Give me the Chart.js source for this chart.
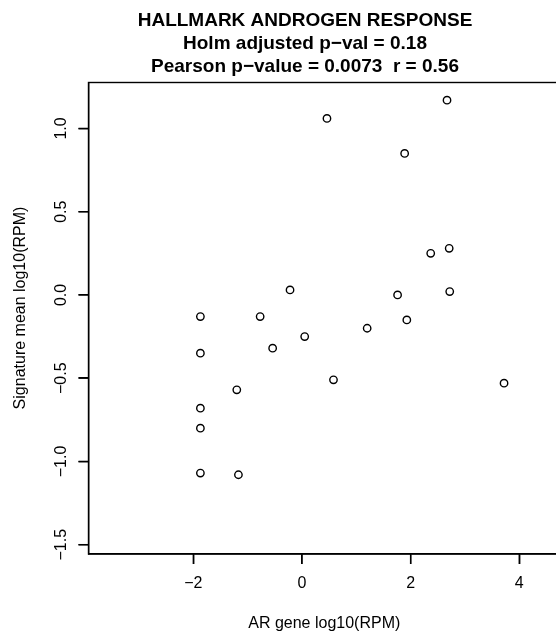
<!DOCTYPE html>
<html>
<head>
<meta charset="utf-8">
<script src="https://cdn.jsdelivr.net/npm/chart.js@4.4.1/dist/chart.umd.min.js"></script>
<style>
  html, body { margin: 0; padding: 0; background: #fff; overflow: hidden; }
  #wrap { width: 556px; height: 636px; overflow: hidden; }
</style>
</head>
<body>
<div id="wrap"><canvas id="chart" width="600" height="636"></canvas></div>
<script>
// AR gene vs signature mean, one point per sample
const arGene = [2.67, 0.46, 1.89, 2.37, 2.71, -0.22, 1.76, 2.72, -1.87, -0.77, 1.93,
  1.20, 0.05, -0.54, -1.87, 0.58, 3.72, -1.20, -1.87, -1.87, -1.87, -1.17];
const sigMean = [1.17, 1.06, 0.85, 0.25, 0.28, 0.03, 0.00, 0.02, -0.13, -0.13, -0.15,
  -0.20, -0.25, -0.32, -0.35, -0.51, -0.53, -0.57, -0.68, -0.80, -1.07, -1.08];

const xTicks = [-2, 0, 2, 4];
const yTicks = [-1.5, -1.0, -0.5, 0.0, 0.5, 1.0];

const titleLines = ['HALLMARK ANDROGEN RESPONSE', 'Holm adjusted p\u2212val = 0.18', 'Pearson p\u2212value = 0.0073  r = 0.56'];
const xTitle = 'AR gene log10(RPM)';
const yTitle = 'Signature mean log10(RPM)';

const FONT = "'Liberation Sans', Arial, Helvetica, sans-serif";
const minus = s => s.replace('-', '\u2212');

const points = arGene.map((x, i) => ({ x: x, y: sigMean[i] }));

// frame, tick marks, main title and y title (R style)
const decor = {
  id: 'decor',
  afterDraw(chart) {
    const ctx = chart.ctx;
    const a = chart.chartArea;
    const sx = chart.scales.x, sy = chart.scales.y;
    ctx.save();
    ctx.strokeStyle = '#000';
    ctx.lineWidth = 1.4;
    ctx.strokeRect(a.left, a.top, a.right - a.left, a.bottom - a.top);

    ctx.fillStyle = '#000';
    xTicks.forEach(v => {
      const px = sx.getPixelForValue(v);
      ctx.fillRect(px - 0.7, a.bottom, 1.4, 10);
    });
    yTicks.forEach(v => {
      const py = sy.getPixelForValue(v);
      ctx.fillRect(a.left - 10, py - 0.7, 10, 1.4);
    });

    ctx.textAlign = 'center';
    ctx.textBaseline = 'middle';
    ctx.font = 'bold 19px ' + FONT;
    titleLines.forEach((t, i) => ctx.fillText(t, 305, 20.7 + i * 23.25));

    ctx.font = '16px ' + FONT;
    ctx.translate(20.5, 308);
    ctx.rotate(-Math.PI / 2);
    ctx.fillText(yTitle, 0, 0);
    ctx.restore();
  }
};

new Chart(document.getElementById('chart'), {
  type: 'scatter',
  data: {
    datasets: [{
      data: points,
      pointStyle: 'circle',
      pointRadius: 3.7,
      pointHoverRadius: 3.7,
      pointBorderWidth: 1.4,
      borderColor: '#000',
      backgroundColor: 'rgba(0,0,0,0)'
    }]
  },
  options: {
    responsive: false,
    animation: false,
    devicePixelRatio: 1,
    layout: { padding: { top: 82.5, right: 40, bottom: 0, left: 0 } },
    plugins: {
      legend: { display: false },
      tooltip: { enabled: false },
      title: { display: false }
    },
    scales: {
      x: {
        type: 'linear',
        min: -3.93,
        max: 4.75,
        afterBuildTicks: s => { s.ticks = xTicks.map(v => ({ value: v })); },
        afterFit: s => { s.height = 82; },
        ticks: {
          color: '#000',
          font: { family: FONT, size: 16 },
          padding: 10,
          maxRotation: 0,
          callback: v => minus(String(v))
        },
        grid: { drawOnChartArea: false, drawTicks: true, tickLength: 10, color: '#000', lineWidth: 1.4 },
        border: { display: true, color: '#000', width: 1.4 },
        title: {
          display: true,
          text: xTitle,
          color: '#000',
          font: { family: FONT, size: 16 },
          padding: { top: 0, bottom: 2.4 }
        }
      },
      y: {
        type: 'linear',
        min: -1.556,
        max: 1.276,
        afterBuildTicks: s => { s.ticks = yTicks.map(v => ({ value: v })); },
        afterFit: s => { s.width = 88.5; },
        ticks: {
          color: '#000',
          font: { family: FONT, size: 16 },
          padding: 1.5,
          minRotation: 90,
          maxRotation: 90,
          crossAlign: 'center',
          callback: v => minus(v.toFixed(1))
        },
        grid: { drawOnChartArea: false, drawTicks: true, tickLength: 10, color: '#000', lineWidth: 1.4 },
        border: { display: true, color: '#000', width: 1.4 }
      }
    }
  },
  plugins: [decor]
});
</script>
</body>
</html>
